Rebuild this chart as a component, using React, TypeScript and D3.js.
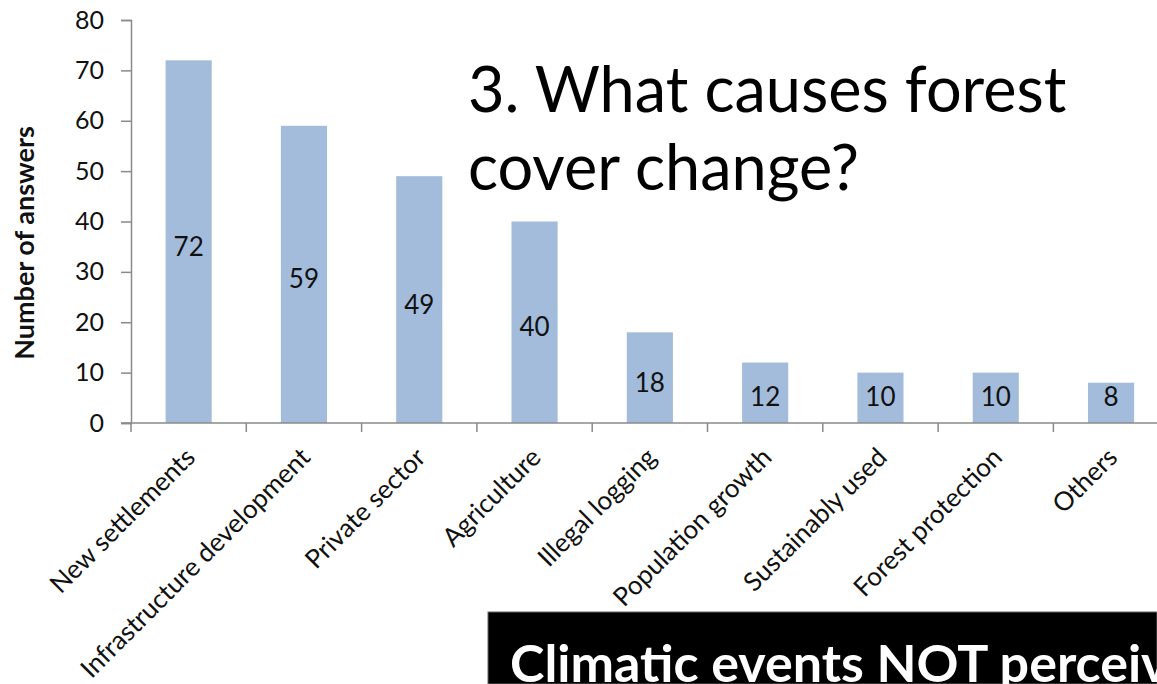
import { useRef, useEffect } from "react";
import * as d3 from "d3";

// Values
const categories = [
  "New settlements",
  "Infrastructure development",
  "Private sector",
  "Agriculture",
  "Illegal logging",
  "Population growth",
  "Sustainably used",
  "Forest protection",
  "Others",
];
const answers = [72, 59, 49, 40, 18, 12, 10, 10, 8];
const yTicks = [0, 10, 20, 30, 40, 50, 60, 70, 80];
const titleLines = ["3. What causes forest", "cover change?"];
const bannerText = "Climatic events NOT perceiv";

const W = 1157;
const H = 684;

export default function App() {
  const svgRef = useRef<SVGSVGElement>(null);

  useEffect(() => {
    if (!svgRef.current) return;
    const svg = d3.select(svgRef.current);
    svg.selectAll("*").remove();

    const font = "Lato, 'Open Sans', sans-serif";
    const x0 = 131;
    const step = 115.3;

    // the category axis runs past the right edge of the slide
    const x = d3
      .scaleBand<string>()
      .domain(categories)
      .range([x0, x0 + step * categories.length])
      .paddingInner(0.6)
      .paddingOuter(0.3);
    const y = d3.scaleLinear().domain([0, 80]).range([423, 20]);

    // Bars
    svg
      .append("g")
      .selectAll("rect")
      .data(answers)
      .enter()
      .append("rect")
      .attr("x", (_, i) => x(categories[i]) ?? 0)
      .attr("y", (d) => y(d))
      .attr("width", x.bandwidth())
      .attr("height", (d) => y(0) - y(d))
      .attr("fill", "#a3bcdb");

    // Value labels, centred in bars (kept off the baseline for short bars)
    svg
      .append("g")
      .selectAll("text")
      .data(answers)
      .enter()
      .append("text")
      .attr("x", (_, i) => (x(categories[i]) ?? 0) + x.bandwidth() / 2)
      .attr("y", (d) => Math.min(y(d / 2) + 4, y(0) - 27))
      .attr("text-anchor", "middle")
      .attr("dominant-baseline", "central")
      .style("font-family", font)
      .style("font-size", "26px")
      .style("fill", "#111")
      .text((d) => d);

    // Y axis
    const yAxis = d3.axisLeft(y).tickValues(yTicks).tickSize(10).tickPadding(17);
    const gy = svg.append("g").attr("transform", `translate(${x0},0)`).call(yAxis);
    gy.select(".domain").attr("stroke", "#8a8a8a").attr("stroke-width", 1.5);
    gy.selectAll(".tick line").attr("stroke", "#8a8a8a").attr("stroke-width", 1.5);
    gy.selectAll(".tick text")
      .style("font-family", font)
      .style("font-size", "25px")
      .style("fill", "#111");

    // X axis line with ticks at category boundaries
    svg
      .append("line")
      .attr("x1", x0 - 10)
      .attr("x2", W)
      .attr("y1", y(0))
      .attr("y2", y(0))
      .attr("stroke", "#8a8a8a")
      .attr("stroke-width", 1.5);
    svg
      .append("g")
      .selectAll("line")
      .data(d3.range(categories.length + 1))
      .enter()
      .append("line")
      .attr("x1", (i) => x0 + i * x.step())
      .attr("x2", (i) => x0 + i * x.step())
      .attr("y1", y(0))
      .attr("y2", y(0) + 9)
      .attr("stroke", "#8a8a8a")
      .attr("stroke-width", 1.5);

    // Rotated category labels
    svg
      .append("g")
      .selectAll("text")
      .data(categories)
      .enter()
      .append("text")
      .attr("transform", (d) => `translate(${(x(d) ?? 0) + x.bandwidth() / 2 + 8},${y(0) + 36}) rotate(-45)`)
      .attr("text-anchor", "end")
      .style("font-family", font)
      .style("font-size", "26px")
      .style("fill", "#111")
      .text((d) => d);

    // Y axis title
    svg
      .append("text")
      .attr("transform", "translate(34,243) rotate(-90)")
      .attr("text-anchor", "middle")
      .style("font-family", font)
      .style("font-size", "27px")
      .style("font-weight", "700")
      .style("fill", "#111")
      .text("Number of answers");

    // Slide title over the plot
    svg
      .append("g")
      .selectAll("text")
      .data(titleLines)
      .enter()
      .append("text")
      .attr("x", 468)
      .attr("y", (_, i) => 112 + i * 78)
      .style("font-family", font)
      .style("font-size", "63px")
      .style("fill", "#000")
      .text((d) => d);

    // Black banner of the next slide section, cut off at the edge
    svg
      .append("rect")
      .attr("x", 488)
      .attr("y", 612)
      .attr("width", W - 488)
      .attr("height", H - 612)
      .attr("fill", "#000")
      .attr("stroke", "#666")
      .attr("stroke-width", 1);
    svg
      .append("text")
      .attr("x", 510)
      .attr("y", 682)
      .style("font-family", font)
      .style("font-size", "52px")
      .style("font-weight", "700")
      .style("fill", "#fff")
      .text(bannerText);

    return () => {
      svg.selectAll("*").remove();
    };
  }, []);

  return (
    <div style={{ position: "absolute", left: 0, top: 0, width: W, height: H, overflow: "hidden", background: "#fff" }}>
      <svg ref={svgRef} width={W} height={H} />
    </div>
  );
}
